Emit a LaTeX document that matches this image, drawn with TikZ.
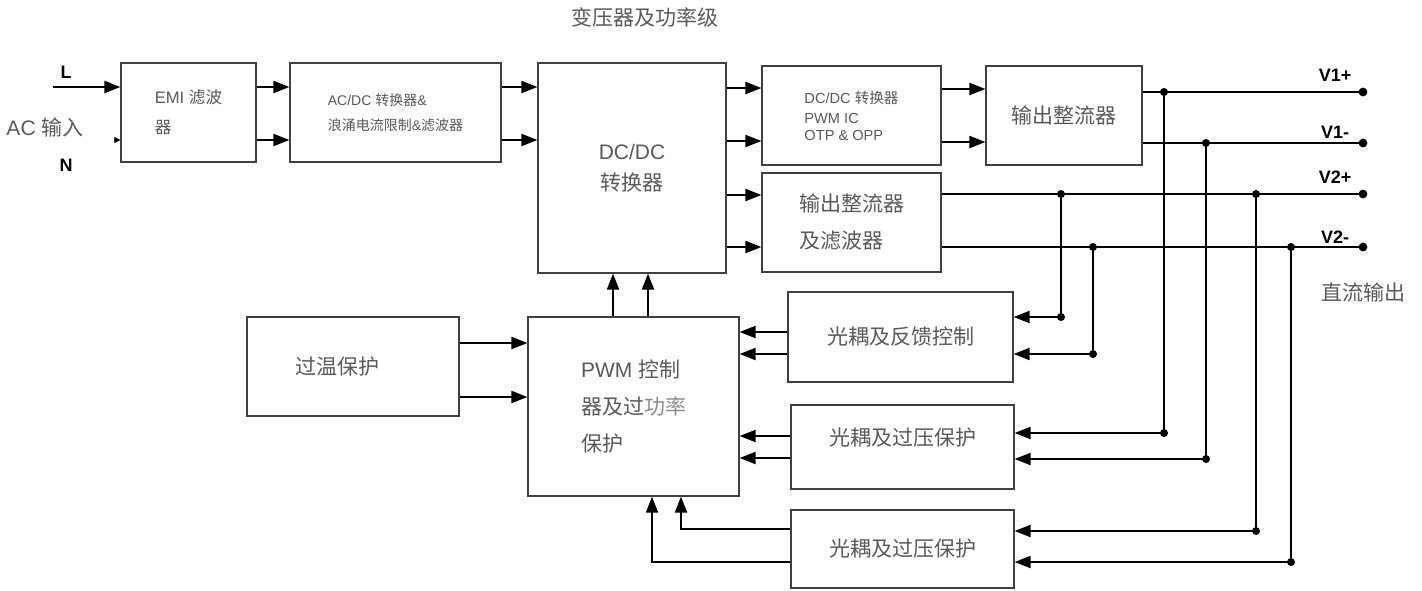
\documentclass[tikz,border=0pt]{standalone}
\usepackage{fontspec}
\setmainfont{Liberation Sans}
\newfontfamily\zhfont{Noto Sans CJK SC}
\usetikzlibrary{arrows.meta}

\begin{document}
\begin{tikzpicture}[x=0.5pt,y=-0.5pt,>={Triangle[length=8pt,width=6pt]},
  blk/.style={draw=black!75,line width=0.6pt,text=black!65,inner sep=0pt,align=left},
  big/.style={font=\fontsize{10.5}{18.5}\selectfont},
  bigzh/.style={font=\zhfont\fontsize{10.5}{18.5}\selectfont},
  wire/.style={line width=1pt},
  lbl/.style={font=\bfseries\fontsize{9}{10}\selectfont},
  txt/.style={text=black!65,font=\fontsize{10.5}{12}\selectfont}]
\useasboundingbox (0,0) rectangle (1422,590);

% blocks
\node[blk,minimum width=67.5pt,minimum height=49.5pt,font=\fontsize{8.3}{15}\selectfont]
    (emi) at (188.5,112.5) {EMI {\zhfont 滤波}\\{\zhfont 器}};
\node[blk,minimum width=105.5pt,minimum height=49.5pt,font=\fontsize{7}{12.5}\selectfont]
    (acdc) at (395.5,112.5) {AC/DC {\zhfont 转换器}\&\\{\zhfont 浪涌电流限制}\&{\zhfont 滤波器}};
\node[blk,big,align=center,minimum width=94pt,minimum height=105pt,font=\fontsize{10.5}{15.5}\selectfont]
    (dcdc) at (632,168) {DC/DC\\{\zhfont 转换器}};
\node[blk,minimum width=89.5pt,minimum height=49.5pt,font=\fontsize{7.3}{8.5}\selectfont]
    (pwmic) at (851.5,115.5) {DC/DC {\zhfont 转换器}\\[1.5pt]PWM IC\\OTP \& OPP};
\node[blk,bigzh,minimum width=78pt,minimum height=49.5pt] (rect1) at (1064,115.5) {输出整流器};
\node[blk,bigzh,minimum width=89.5pt,minimum height=49.5pt] (rect2) at (851.5,222.5) {输出整流器\\及滤波器};
\node[blk,bigzh,minimum width=112.5pt,minimum height=45pt] (fb) at (900.5,337) {光耦及反馈控制};
\node[blk,bigzh,minimum width=111.5pt,minimum height=42pt,text depth=10pt] (ovp1) at (902.5,447) {光耦及过压保护};
\node[blk,bigzh,minimum width=111.5pt,minimum height=39pt] (ovp2) at (902.5,549) {光耦及过压保护};
\node[blk,bigzh,minimum width=106pt,minimum height=49.5pt] (temp) at (353,366.5) {\hspace*{-16pt}过温保护};
\node[blk,big,minimum width=105.5pt,minimum height=89.5pt] (pwm) at (633.5,406.5)
    {PWM {\zhfont 控制}\\{\zhfont 器及过}{\zhfont\color{black!45}功率}\\{\zhfont 保护}};

% labels
\node[txt] (title) at (645,17) {\zhfont 变压器及功率级};
\node[lbl] (lL) at (66,72) {L};
\node[lbl] (lN) at (66,165) {N};
\node[txt] (acin) at (45,127) {AC {\zhfont 输入}};
\node[lbl] (lv1p) at (1335,75) {V1+};
\node[lbl] (lv1m) at (1335,132) {V1-};
\node[lbl] (lv2p) at (1335,177) {V2+};
\node[lbl] (lv2m) at (1335,237) {V2-};
\node[txt] (dcout) at (1363,292) {\zhfont 直流输出};

% input side
\coordinate (lin) at (53,87);
\coordinate (nin) at (114,140);
\draw[wire,->] (lin) -- (emi.west |- lin);
\draw[line width=0.5pt,-{Triangle[length=3pt,width=3pt]}] (nin) -- (emi.west |- nin);
\foreach \y in {87,140} {
  \draw[wire,->] (emi.east |- 0,\y) -- (acdc.west |- 0,\y);
  \draw[wire,->] (acdc.east |- 0,\y) -- (dcdc.west |- 0,\y);
}
\foreach \y in {88,141} \draw[wire,->] (dcdc.east |- 0,\y) -- (pwmic.west |- 0,\y);
\foreach \y in {195,247} \draw[wire,->] (dcdc.east |- 0,\y) -- (rect2.west |- 0,\y);
\foreach \y in {89,142} \draw[wire,->] (pwmic.east |- 0,\y) -- (rect1.west |- 0,\y);

% outputs
\coordinate (v1p) at (1363,92);
\coordinate (v1m) at (1363,143);
\coordinate (v2p) at (1363,194);
\coordinate (v2m) at (1363,247);
\draw[wire] (rect1.east |- v1p) -- (v1p);
\draw[wire] (rect1.east |- v1m) -- (v1m);
\draw[wire] (rect2.east |- v2p) -- (v2p);
\draw[wire] (rect2.east |- v2m) -- (v2m);
\foreach \p in {v1p,v1m,v2p,v2m} \fill (\p) circle (2.2pt);

% feedback taps
\foreach \x/\ya/\yb/\n in {1164/92/433/ovp1,1206/143/459/ovp1,1061/194/317/fb,
                           1093/247/354/fb,1256/194/531/ovp2,1291/247/562/ovp2} {
  \draw[wire,->] (\x,\ya) -- (\x,\yb) -- (\n.east |- 0,\yb);
  \fill (\x,\ya) circle (2pt) (\x,\yb) circle (2pt);
}

% into the PWM controller
\foreach \y in {332,354} \draw[wire,->] (fb.west |- 0,\y) -- (pwm.east |- 0,\y);
\foreach \y in {436,458} \draw[wire,->] (ovp1.west |- 0,\y) -- (pwm.east |- 0,\y);
\foreach \y in {343,397} \draw[wire,->] (temp.east |- 0,\y) -- (pwm.west |- 0,\y);
\draw[wire,->] (ovp2.west |- 0,529) -| (pwm.south -| 681,0);
\draw[wire,->] (ovp2.west |- 0,562) -| (pwm.south -| 652,0);
\foreach \x in {613,648} \draw[wire,->] (pwm.north -| \x,0) -- (dcdc.south -| \x,0);
\end{tikzpicture}
\end{document}
